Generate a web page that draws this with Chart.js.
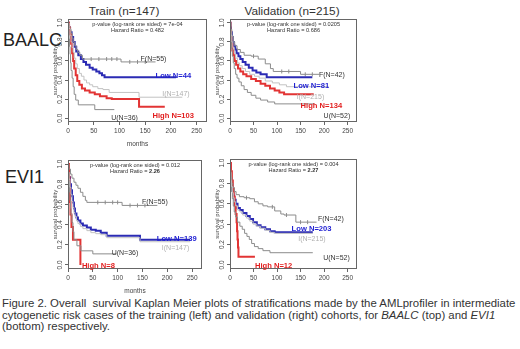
<!DOCTYPE html>
<html>
<head>
<meta charset="utf-8">
<script src="https://cdn.jsdelivr.net/npm/chart.js@4.4.1/dist/chart.umd.min.js"></script>
<style>
  body { margin: 0; background: #fff; width: 520px; height: 349px; overflow: hidden; position: relative;
         font-family: "Liberation Sans", Arial, sans-serif; }
  .panel { position: absolute; }
  .panel canvas { position: absolute; left: 0; top: 0; }
  .col-title { position: absolute; top: 4px; font-size: 11.8px; color: #333; transform: translateX(-50%); white-space: nowrap; }
  .row-label { position: absolute; font-size: 18px; color: #222; transform: translateY(-50%); }
  .note { position: absolute; font-size: 5.6px; color: #333; white-space: nowrap; transform: translate(-50%, -50%); }
  .lbl { position: absolute; font-size: 7px; white-space: nowrap; transform: translateY(-50%); }
  .lbl.b { font-weight: bold; font-size: 7.6px; }
  #caption { position: absolute; left: 2px; top: 298px; font-size: 11.4px; line-height: 11.7px; color: #333; white-space: nowrap; }
</style>
</head>
<body>
<div class="col-title" style="left:124px">Train (n=147)</div>
<div class="col-title" style="left:292px">Validation (n=215)</div>
<div class="row-label" style="left:3px;top:40px">BAALC</div>
<div class="row-label" style="left:5px;top:177px">EVI1</div>
<div id="caption">Figure 2. Overall&nbsp; survival Kaplan Meier plots of stratifications made by the AMLprofiler in intermediate<br>cytogenetic risk cases of the training (left) and validation (right) cohorts, for <i>BAALC</i> (top) and <i>EVI1</i><br>(bottom) respectively.</div>

<script>
// eixos
const xTicks = [0, 50, 100, 150, 200, 250];
const yTicks = [0, 0.2, 0.4, 0.6, 0.8, 1.0];

// BAALC - treino  [meses, sobrevida]
const baalcTrainF = [[0,1],[2,0.96],[4,0.93],[6,0.89],[8,0.84],[10,0.8],[13,0.76],[16,0.72],[19,0.69],[23,0.66],[28,0.62],[103,0.59],[170,0.59]];
const baalcTrainLow = [[0,1],[2,0.95],[4,0.9],[7,0.85],[10,0.8],[13,0.75],[16,0.7],[20,0.66],[25,0.62],[30,0.59],[35,0.56],[42,0.53],[48,0.51],[55,0.49],[61,0.47],[66,0.45],[71,0.43],[210,0.43]];
const baalcTrainI = [[0,1],[2,0.94],[4,0.87],[6,0.8],[8,0.74],[10,0.69],[12,0.63],[15,0.57],[18,0.52],[22,0.47],[26,0.44],[31,0.4],[36,0.37],[42,0.35],[48,0.33],[58,0.31],[68,0.3],[80,0.27],[138,0.22],[222,0.22]];
const baalcTrainHigh = [[0,1],[2,0.95],[4,0.88],[6,0.78],[8,0.68],[10,0.6],[12,0.52],[15,0.45],[18,0.39],[22,0.35],[27,0.31],[33,0.29],[42,0.27],[52,0.25],[62,0.23],[75,0.21],[85,0.2],[138,0.12],[188,0.12]];
const baalcTrainU = [[0,1],[1,0.92],[2,0.83],[3,0.75],[4,0.67],[5,0.58],[6,0.5],[8,0.42],[10,0.33],[12,0.25],[15,0.19],[20,0.14],[52,0.09],[90,0.09]];

// BAALC - validacao
const baalcValF = [[0,1],[2,0.93],[4,0.86],[7,0.8],[10,0.76],[15,0.72],[22,0.69],[30,0.66],[45,0.65],[60,0.62],[75,0.57],[86,0.52],[92,0.49],[150,0.46],[190,0.46]];
const baalcValLow = [[0,1],[1,0.95],[2,0.9],[4,0.85],[6,0.8],[8,0.76],[11,0.72],[14,0.68],[18,0.65],[22,0.62],[27,0.59],[33,0.56],[40,0.53],[48,0.5],[56,0.48],[65,0.46],[78,0.43],[175,0.43]];
const baalcValI = [[0,1],[1,0.93],[2,0.87],[4,0.8],[6,0.74],[9,0.68],[12,0.63],[16,0.58],[20,0.55],[26,0.52],[33,0.49],[42,0.46],[52,0.44],[62,0.42],[75,0.39],[90,0.37],[105,0.35],[120,0.33],[210,0.33]];
const baalcValHigh = [[0,1],[1,0.92],[2,0.85],[3,0.78],[5,0.71],[7,0.66],[10,0.6],[13,0.56],[17,0.52],[22,0.49],[28,0.46],[35,0.44],[45,0.41],[55,0.39],[65,0.36],[75,0.34],[85,0.31],[95,0.29],[105,0.27],[115,0.25],[178,0.25]];
const baalcValU = [[0,1],[1,0.9],[2,0.81],[3,0.73],[5,0.65],[7,0.58],[9,0.52],[12,0.46],[15,0.42],[19,0.38],[24,0.34],[30,0.3],[37,0.27],[45,0.24],[55,0.21],[65,0.19],[80,0.17],[95,0.15],[180,0.15]];

// EVI1 - treino
const evi1TrainF = [[0,1],[2,0.95],[5,0.9],[8,0.86],[12,0.82],[16,0.79],[20,0.76],[25,0.72],[30,0.68],[35,0.64],[38,0.62],[109,0.59],[180,0.59]];
const evi1TrainLow = [[0,1],[1,0.93],[2,0.87],[4,0.8],[6,0.74],[8,0.68],[10,0.62],[12,0.56],[14,0.51],[17,0.47],[20,0.44],[25,0.41],[30,0.39],[38,0.37],[46,0.35],[56,0.34],[66,0.32],[78,0.29],[145,0.25],[246,0.25]];
const evi1TrainI = [[0,1],[1,0.92],[2,0.85],[4,0.77],[6,0.7],[8,0.63],[10,0.57],[12,0.52],[14,0.48],[17,0.44],[20,0.41],[25,0.38],[30,0.36],[38,0.34],[46,0.32],[56,0.31],[66,0.3],[78,0.27],[145,0.23],[246,0.23]];
const evi1TrainHigh = [[0,1],[2,0.875],[3,0.75],[4,0.625],[5,0.5],[7,0.375],[10,0.25],[25,0]];
const evi1TrainU = [[0,1],[1,0.92],[2,0.83],[3,0.72],[4,0.64],[5,0.56],[6,0.5],[8,0.42],[10,0.33],[12,0.25],[18,0.19],[26,0.14],[50,0.11],[98,0.11]];

// EVI1 - validacao
const evi1ValF = [[0,1],[1,0.93],[2,0.86],[4,0.8],[6,0.76],[9,0.72],[13,0.69],[20,0.67],[30,0.66],[42,0.65],[52,0.62],[60,0.6],[70,0.58],[80,0.57],[95,0.53],[108,0.5],[115,0.49],[140,0.42],[184,0.42]];
const evi1ValLow = [[0,1],[1,0.92],[2,0.85],[3,0.79],[5,0.73],[7,0.68],[9,0.64],[12,0.6],[16,0.56],[21,0.54],[27,0.51],[35,0.48],[42,0.45],[49,0.42],[57,0.39],[65,0.37],[75,0.35],[85,0.33],[95,0.32],[176,0.32]];
const evi1ValI = [[0,1],[1,0.91],[2,0.83],[3,0.77],[5,0.71],[7,0.66],[9,0.62],[12,0.58],[16,0.54],[21,0.52],[27,0.49],[35,0.46],[42,0.43],[49,0.4],[57,0.38],[65,0.36],[75,0.34],[85,0.32],[95,0.31],[176,0.31]];
const evi1ValHigh = [[0,1],[2,0.92],[4,0.83],[6,0.75],[8,0.67],[10,0.58],[12,0.5],[14,0.42],[15,0.33],[16,0.25],[17,0.17],[18,0.08],[53,0.08]];
const evi1ValU = [[0,1],[1,0.9],[2,0.8],[3,0.72],[5,0.65],[7,0.58],[9,0.52],[12,0.47],[16,0.42],[21,0.38],[26,0.35],[31,0.31],[36,0.28],[41,0.25],[46,0.21],[52,0.18],[60,0.16],[70,0.14],[85,0.12],[176,0.12]];

// censuras visiveis (meses) nas curvas F
const baalcTrainFCens = [45, 60, 75, 85, 95, 120, 135, 150];
const baalcValFCens = [50, 110, 125, 160, 175];
const evi1TrainFCens = [60, 75, 90, 100, 125, 140, 155];
const evi1ValFCens = [35, 90, 120, 150, 165];

// estilo das curvas
const curveColor = { F: "#8c8c8c", Low: "#2b2bb4", I: "#c2c2c2", High: "#e23434", U: "#8c8c8c" };
const curveWidth = { F: 1, Low: 2, I: 1, High: 2, U: 1 };
const labelColor = { F: "#333", Low: "#1e1ed2", I: "#b0b0b0", High: "#e21e1e", U: "#333" };

Chart.defaults.font.family = '"Liberation Sans", Arial, sans-serif';

// valor da curva em escada num tempo t
function survAt(pts, t) {
  let s = 1;
  pts.forEach(([tt, ss]) => { if (tt <= t) s = ss; });
  return s;
}

// moldura do grafico (estilo R)
const boxPlugin = {
  id: "box",
  afterDatasetsDraw(chart) {
    const { ctx, chartArea: a } = chart;
    ctx.save();
    ctx.strokeStyle = "#666";
    ctx.lineWidth = 1;
    ctx.strokeRect(a.left + 0.5, a.top + 0.5, a.right - a.left - 1, a.bottom - a.top - 1);
    ctx.restore();
  }
};

function drawPanel(cfg) {
  const Y_W = 16;
  const X_H = cfg.months ? 26 : 18;
  const [bl, bt, br, bb] = cfg.box;
  const w = br - bl + Y_W + 1;
  const h = bb - bt + 1 + X_H;

  const wrap = document.createElement("div");
  wrap.className = "panel";
  wrap.style.left = (bl - Y_W) + "px";
  wrap.style.top = (bt - 1) + "px";
  wrap.style.width = w + "px";
  wrap.style.height = h + "px";
  const canvas = document.createElement("canvas");
  canvas.width = w;
  canvas.height = h;
  wrap.appendChild(canvas);
  document.body.appendChild(wrap);

  const datasets = cfg.curves.map(([name, pts]) => ({
    label: name,
    data: pts.map(([t, s]) => ({ x: t, y: s })),
    stepped: true,
    borderColor: curveColor[name],
    borderWidth: curveWidth[name],
    pointRadius: 0,
    fill: false
  }));
  const fPts = cfg.curves.find(c => c[0] === "F")[1];
  datasets.push({
    label: "F censor",
    data: cfg.censF.map(t => ({ x: t, y: survAt(fPts, t) })),
    showLine: false,
    pointStyle: "line",
    rotation: 90,
    pointRadius: 2,
    pointBorderColor: curveColor.F,
    pointBorderWidth: 1
  });

  const chart = new Chart(canvas.getContext("2d"), {
    type: "line",
    data: { datasets },
    options: {
      responsive: false,
      animation: false,
      layout: { autoPadding: false, padding: { top: 1, right: 1, left: 0, bottom: 0 } },
      plugins: { legend: { display: false }, tooltip: { enabled: false } },
      scales: {
        x: {
          type: "linear",
          min: 0,
          max: 270,
          afterBuildTicks: s => { s.ticks = xTicks.map(v => ({ value: v })); },
          afterFit: s => { s.height = X_H; s.paddingLeft = 0; s.paddingRight = 0; },
          grid: { drawOnChartArea: false, tickLength: 3, color: "#666" },
          border: { display: false },
          ticks: { font: { size: 6.5 }, color: "#444", padding: 2, maxRotation: 0, autoSkip: false },
          title: { display: cfg.months, text: "months", font: { size: 6.5 }, color: "#444", padding: 0 }
        },
        y: {
          min: -0.04,
          max: 1.04,
          afterBuildTicks: s => { s.ticks = yTicks.map(v => ({ value: v })); },
          afterFit: s => { s.width = Y_W; s.paddingTop = 0; s.paddingBottom = 0; },
          grid: { drawOnChartArea: false, tickLength: 3, color: "#666" },
          border: { display: false },
          ticks: { font: { size: 6.5 }, color: "#444", padding: 0, minRotation: 90, maxRotation: 90,
                   crossAlign: "center", callback: v => v.toFixed(1) },
          title: { display: true, text: "survival probability", font: { size: 6 }, color: "#444", padding: 0 }
        }
      }
    },
    plugins: [boxPlugin]
  });

  // textos dentro do grafico
  const xs = chart.scales.x, ys = chart.scales.y, a = chart.chartArea;
  const cx = (a.left + a.right) / 2;
  cfg.note.forEach((txt, i) => {
    const d = document.createElement("div");
    d.className = "note";
    d.innerHTML = txt;
    d.style.left = cx + "px";
    d.style.top = (a.top + 5 + i * 6) + "px";
    wrap.appendChild(d);
  });
  cfg.labels.forEach(([name, txt, t, s]) => {
    const d = document.createElement("div");
    d.className = "lbl" + (name === "Low" || name === "High" ? " b" : "");
    d.textContent = txt;
    d.style.color = labelColor[name];
    d.style.left = xs.getPixelForValue(t) + "px";
    d.style.top = ys.getPixelForValue(s) + "px";
    wrap.appendChild(d);
  });
}

drawPanel({
  box: [68, 19, 207, 122], months: true,
  curves: [["I", baalcTrainI], ["F", baalcTrainF], ["U", baalcTrainU], ["High", baalcTrainHigh], ["Low", baalcTrainLow]],
  censF: baalcTrainFCens,
  note: ["p-value (log-rank one sided) = 7e-04", "Hazard Ratio = 0.482"],
  labels: [["F", "F(N=55)", 141, 0.63], ["Low", "Low  N=44", 170, 0.45], ["I", "I(N=147)", 183, 0.26],
           ["High", "High  N=103", 164, 0.03], ["U", "U(N=36)", 84, 0.01]]
});
drawPanel({
  box: [230, 19, 357, 122], months: false,
  curves: [["I", baalcValI], ["F", baalcValF], ["U", baalcValU], ["High", baalcValHigh], ["Low", baalcValLow]],
  censF: baalcValFCens,
  note: ["p-value (log-rank one sided) = 0.0205", "Hazard Ratio = 0.686"],
  labels: [["F", "F(N=42)", 189, 0.46], ["Low", "Low  N=81", 135, 0.35], ["I", "I(N=215)", 142, 0.23],
           ["High", "High  N=134", 150, 0.14], ["U", "U(N=52)", 199, 0.03]]
});
drawPanel({
  box: [68, 160, 202, 269], months: true,
  curves: [["I", evi1TrainI], ["F", evi1TrainF], ["U", evi1TrainU], ["High", evi1TrainHigh], ["Low", evi1TrainLow]],
  censF: evi1TrainFCens,
  note: ["p-value (log-rank one sided) = 0.012", "Hazard Ratio = <b>2.26</b>"],
  labels: [["F", "F(N=55)", 149, 0.63], ["Low", "Low  N=139", 179, 0.27], ["I", "I(N=147)", 189, 0.18],
           ["U", "U(N=36)", 88, 0.13], ["High", "High  N=8", 28, 0.0]]
});
drawPanel({
  box: [230, 159, 357, 269], months: false,
  curves: [["I", evi1ValI], ["F", evi1ValF], ["U", evi1ValU], ["High", evi1ValHigh], ["Low", evi1ValLow]],
  censF: evi1ValFCens,
  note: ["p-value (log-rank one sided) = 0.004", "Hazard Ratio = <b>2.27</b>"],
  labels: [["F", "F(N=42)", 187, 0.46], ["Low", "Low  N=203", 131, 0.36], ["I", "I(N=215)", 145, 0.26],
           ["U", "U(N=52)", 198, 0.08], ["High", "High  N=12", 53, 0.0]]
});
</script>
</body>
</html>
